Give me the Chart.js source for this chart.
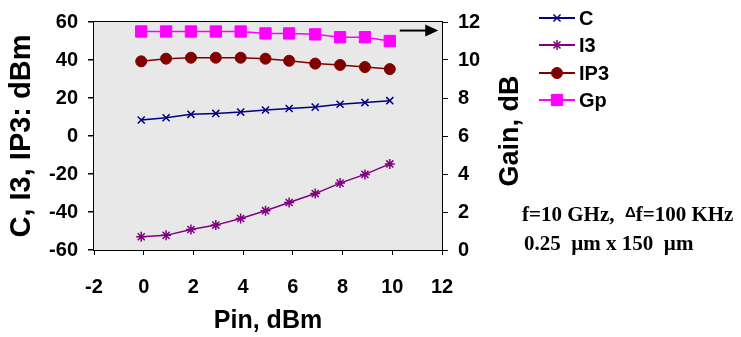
<!DOCTYPE html>
<html>
<head>
<meta charset="utf-8">
<script src="https://cdn.jsdelivr.net/npm/chart.js@4"></script>
<style>
  body { margin: 0; background: #fff; }
  #wrap { position: relative; width: 741px; height: 337px; }
  .note { position: absolute; font-family: "Liberation Serif", serif; font-weight: bold; font-size: 21px; color: #000; white-space: pre; }
  .sym { font-family: "Liberation Sans", sans-serif; font-size: 15px; vertical-align: 4px; }
</style>
</head>
<body>
<div id="wrap">
  <canvas id="myChart" width="741" height="337"></canvas>
  <div class="note" style="left:522px; top:202px;">f=10 GHz,  <span class="sym">Δ</span>f=100 KHz</div>
  <div class="note" style="left:524px; top:231px;">0.25  µm x 150  µm</div>
</div>
<script>
// Pin values (dBm)
var pin = [-0.1, 0.9, 1.9, 2.9, 3.9, 4.9, 5.85, 6.9, 7.9, 8.9, 9.9];

// left axis series (dBm)
var cVals = [8.4, 9.6, 11.4, 11.9, 12.6, 13.7, 14.5, 15.2, 16.7, 17.6, 18.6];
var i3Vals = [-53.0, -52.3, -49.2, -46.9, -43.4, -39.3, -35.0, -30.3, -24.8, -20.2, -14.7];
var ip3Vals = [39.3, 40.7, 41.2, 41.2, 41.2, 40.7, 39.6, 38.1, 37.4, 36.3, 35.2];

// right axis series (gain, dB)
var gpVals = [11.5, 11.5, 11.5, 11.5, 11.5, 11.4, 11.4, 11.35, 11.2, 11.2, 11.0];

var seriesNames = ["C", "I3", "IP3", "Gp"];
var gainTitle = "Gain, dB";

function pts(vals) {
	var out = [];
	for (var i = 0; i < vals.length; i++) {
		out.push({x: pin[i], y: vals[i]});
	}
	return out;
}

var sans = "'Liberation Sans', Arial, sans-serif";
var tickFont = {family: sans, size: 20, weight: "bold"};

// grey plot background, arrow towards gain axis, gain axis title
var plotDeco = {
	id: "plotDeco",
	beforeDatasetsDraw: function(chart) {
		var a = chart.chartArea, ctx = chart.ctx;
		ctx.save();
		ctx.fillStyle = "#e8e8e8";
		ctx.fillRect(a.left, a.top, a.right - a.left, a.bottom - a.top);
		ctx.restore();
	},
	afterDatasetsDraw: function(chart) {
		var ctx = chart.ctx;
		var xs = chart.scales.x, ys = chart.scales.y2;
		var x1 = xs.getPixelForValue(10.3), x2 = xs.getPixelForValue(11.85);
		var y = ys.getPixelForValue(11.55);
		ctx.save();
		ctx.strokeStyle = "#000";
		ctx.fillStyle = "#000";
		ctx.lineWidth = 2;
		ctx.beginPath();
		ctx.moveTo(x1, y);
		ctx.lineTo(x2 - 10, y);
		ctx.stroke();
		ctx.beginPath();
		ctx.moveTo(x2, y);
		ctx.lineTo(x2 - 13, y - 6);
		ctx.lineTo(x2 - 13, y + 6);
		ctx.closePath();
		ctx.fill();

		// right title reads bottom to top, like the left one
		var a = chart.chartArea;
		ctx.translate(511, (a.top + a.bottom) / 2 - 5);
		ctx.rotate(-Math.PI / 2);
		ctx.font = "bold 27px " + sans;
		ctx.textAlign = "center";
		ctx.textBaseline = "middle";
		ctx.fillText(gainTitle, 0, 0);
		ctx.restore();
	}
};

// legend at the upper right, drawn from the dataset styles
var sideLegend = {
	id: "sideLegend",
	afterDraw: function(chart) {
		var ctx = chart.ctx;
		var rows = [18, 45, 73, 100];
		ctx.save();
		chart.data.datasets.forEach(function(ds, i) {
			var y = rows[i];
			ctx.strokeStyle = ds.borderColor;
			ctx.lineWidth = 2;
			ctx.beginPath();
			ctx.moveTo(539, y);
			ctx.lineTo(575, y);
			ctx.stroke();
			ctx.fillStyle = ds.pointBackgroundColor;
			ctx.strokeStyle = ds.pointBorderColor;
			ctx.lineWidth = ds.pointBorderWidth;
			Chart.helpers.drawPoint(ctx, {
				pointStyle: ds.pointStyle,
				radius: ds.pointRadius,
				borderWidth: ds.pointBorderWidth,
				rotation: 0
			}, 557, y);
			ctx.fillStyle = "#000";
			ctx.font = "bold 20px " + sans;
			ctx.textBaseline = "middle";
			ctx.textAlign = "left";
			ctx.fillText(seriesNames[i], 579, y + 1);
		});
		ctx.restore();
	}
};

var ctx = document.getElementById("myChart").getContext("2d");
var chart = new Chart(ctx, {
	type: "line",
	data: {
		datasets: [{
			label: seriesNames[0],
			data: pts(cVals),
			yAxisID: "y",
			borderColor: "#000080",
			pointBorderColor: "#000080",
			pointBackgroundColor: "#000080",
			pointStyle: "crossRot",
			pointRadius: 5,
			pointBorderWidth: 1.5,
			borderWidth: 1.5
		}, {
			label: seriesNames[1],
			data: pts(i3Vals),
			yAxisID: "y",
			borderColor: "#800080",
			pointBorderColor: "#800080",
			pointBackgroundColor: "#800080",
			pointStyle: "star",
			pointRadius: 5,
			pointBorderWidth: 1.5,
			borderWidth: 1.5
		}, {
			label: seriesNames[2],
			data: pts(ip3Vals),
			yAxisID: "y",
			borderColor: "#800000",
			pointBorderColor: "#800000",
			pointBackgroundColor: "#800000",
			pointStyle: "circle",
			pointRadius: 5.5,
			pointBorderWidth: 1,
			borderWidth: 1.5
		}, {
			label: seriesNames[3],
			data: pts(gpVals),
			yAxisID: "y2",
			borderColor: "#ff00ff",
			pointBorderColor: "#ff00ff",
			pointBackgroundColor: "#ff00ff",
			pointStyle: "rect",
			pointRadius: 8,
			pointBorderWidth: 1,
			borderWidth: 1.5
		}]
	},
	options: {
		responsive: false,
		animation: false,
		layout: {padding: {top: 15, right: 215, left: 0, bottom: 0}},
		plugins: {legend: {display: false}, tooltip: {enabled: false}},
		scales: {
			x: {
				type: "linear",
				min: -2, max: 12,
				afterFit: function(s) { s.height = 87; },
				ticks: {stepSize: 2, color: "#000", font: tickFont, padding: 20},
				grid: {drawOnChartArea: false, color: "#000", tickLength: 5},
				border: {color: "#000", width: 2},
				title: {display: true, text: "Pin, dBm", color: "#000", padding: {top: 0, bottom: 1},
					font: {family: sans, size: 25, weight: "bold"}}
			},
			y: {
				position: "left",
				min: -60, max: 60,
				afterFit: function(s) { s.width = 94; },
				ticks: {stepSize: 20, color: "#000", font: tickFont, padding: 10},
				grid: {color: "#000", lineWidth: 1.5, tickLength: 6},
				border: {color: "#000", width: 2},
				title: {display: true, text: "C, I3, IP3: dBm", color: "#000", padding: {top: 5, bottom: 0},
					font: {family: sans, size: 29, weight: "bold"}}
			},
			y2: {
				position: "right",
				min: 0, max: 12,
				afterFit: function(s) { s.width = 84; },
				ticks: {stepSize: 2, color: "#000", font: tickFont, padding: 10},
				grid: {drawOnChartArea: false, color: "#000", tickLength: 6},
				border: {color: "#000", width: 2}
			}
		}
	},
	plugins: [plotDeco, sideLegend]
});
</script>
</body>
</html>
